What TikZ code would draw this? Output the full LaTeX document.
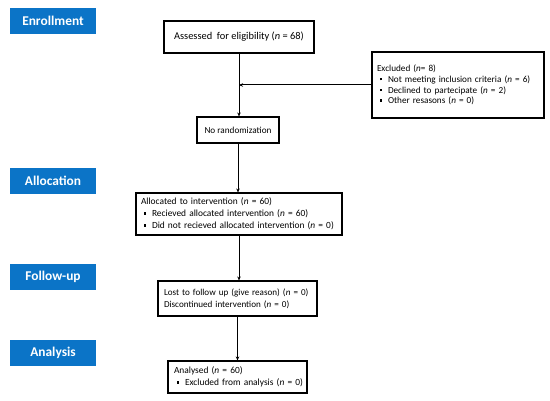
\documentclass[tikz,border=0pt]{standalone}
\usepackage{fontspec}
\setmainfont{Carlito}
\usetikzlibrary{arrows.meta}
\definecolor{labblue}{RGB}{11,116,199}
\newcommand\sqbul{\hspace*{2.5pt}\makebox[8.5pt][l]{\rule[2pt]{2.6pt}{2.6pt}}}
\newcommand\nn{\textit{n}}
\begin{document}
\begin{tikzpicture}[x=1pt,y=-1pt,
  stage/.style={fill=labblue, text=white, font=\bfseries\fontsize{13.4}{15}\selectfont, minimum width=86pt, minimum height=26pt, inner sep=0pt},
  box/.style={draw=black, line width=1.1pt, inner xsep=5pt, inner ysep=2pt, align=left, font=\fontsize{9.4}{12}\selectfont},
  single/.style={draw=black, line width=1.1pt, inner sep=0pt, align=center},
  flow/.style={line width=1pt, -{Stealth[length=4pt,width=3.5pt]}}]
\useasboundingbox (0,0) rectangle (550,401);
\fill[white] (0,0) rectangle (550,401);

\node[stage] (lenr) at (53,21) {Enrollment};
\node[stage] (lall) at (53,181) {Allocation};
\node[stage] (lfol) at (53,277) {Follow-up};
\node[stage] (lana) at (53,353) {Analysis};

\node[single, minimum width=150pt, minimum height=32pt, font=\fontsize{10.4}{13}\selectfont] (ass) at (239,37) {Assessed\ \ for eligibility (\nn\ = 68)};
\node[single, minimum width=82pt, minimum height=26pt, font=\fontsize{9.2}{11}\selectfont] (norand) at (238,130) {No randomization};
\node[box, text width=162pt, minimum height=66pt, font=\fontsize{9.2}{10.8}\selectfont] (excl) at (458,85) {\mbox{Excluded (\nn= 8)}\\
\mbox{\sqbul Not meeting inclusion criteria (\nn\ = 6)}\\
\mbox{\sqbul Declined to partecipate (\nn\ = 2)}\\
\mbox{\sqbul Other resasons (\nn\ = 0)}\par\vspace{10pt}};
\node[box, text width=196pt, minimum height=42pt] (alloc) at (239,214) {\mbox{Allocated to intervention (\nn\ = 60)}\\
\mbox{\sqbul Recieved allocated intervention (\nn\ = 60)}\\
\mbox{\sqbul Did not recieved allocated intervention (\nn\ = 0)}};
\node[box, text width=147pt, minimum height=35pt, inner xsep=6pt, font=\fontsize{9.1}{12}\selectfont] (lost) at (237.5,298.5) {\mbox{Lost to follow up (give reason) (\nn\ = 0)}\\
\mbox{Discontinued intervention (\nn\ = 0)}};
\node[box, text width=127pt, minimum height=32pt, inner xsep=6pt] (anal) at (237.5,377) {\mbox{Analysed (\nn\ = 60)}\\
\mbox{\sqbul Excluded from analysis (\nn\ = 0)}};

\draw[flow] (ass.south) -- (ass.south |- norand.north);
\draw[flow] (excl.west) -- (excl.west -| ass.south);
\draw[flow] (norand.south) -- (norand.south |- alloc.north);
\draw[flow] (alloc.south) -- (alloc.south |- lost.north);
\draw[flow] (lost.south) -- (lost.south |- anal.north);
\end{tikzpicture}
\end{document}
